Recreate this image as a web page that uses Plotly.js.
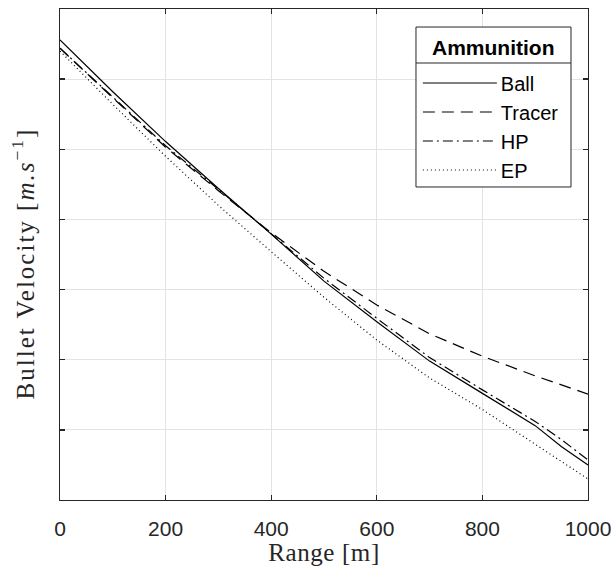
<!DOCTYPE html>
<html>
<head>
<meta charset="utf-8">
<script src="https://cdn.plot.ly/plotly-3.0.1.min.js"></script>
<style>
html,body{margin:0;padding:0;background:#fff;}
#chart{width:615px;height:574px;}
.ytitle{letter-spacing:2px;}
.xtitle{letter-spacing:0.6px;}
</style>
</head>
<body>
<div id="chart"></div>
<script>
// Range in metres
const range = [0, 100, 200, 300, 400, 500, 600, 700, 800, 900, 950, 1000];
// Bullet velocity (y tick labels are hidden in the reference; units estimated)
const ball   = [856, 782, 711, 644, 579, 512, 454, 398, 352, 306, 276, 250];
const tracer = [844, 773, 703, 641, 581, 526, 478, 437, 405, 377, 364, 351];
const hp     = [844, 774, 705, 643, 580, 516, 459, 403, 357, 312, 286, 257];
const ep     = [840, 764, 690, 620, 554, 489, 428, 374, 329, 280, 255, 230];
const seriesNames = ['Ball', 'Tracer', 'HP', 'EP'];
const legendTitle = 'Ammunition';
const xTicks = [0, 200, 400, 600, 800, 1000];
const yTicks = [200, 300, 400, 500, 600, 700, 800, 900];

const dashes = ['solid', '12px,7px', '10px,4px,2px,4px', '1px,3px'];
const allY = [ball, tracer, hp, ep];

const traces = allY.map((y, i) => ({
  x: range, y: y, type: 'scatter', mode: 'lines', name: seriesNames[i],
  line: {color: '#000000', width: 1.2, dash: dashes[i]}
}));

const axisCommon = {
  showline: true, linecolor: '#262626', linewidth: 1.3, mirror: 'ticks',
  ticks: 'inside', ticklen: 5, tickcolor: '#262626', tickwidth: 1.3,
  showgrid: true, gridcolor: '#e3e3e3', gridwidth: 1, zeroline: false
};

const layout = {
  width: 615, height: 574,
  margin: {l: 60, r: 27, t: 9, b: 74},
  paper_bgcolor: '#ffffff', plot_bgcolor: '#ffffff',
  showlegend: true,
  xaxis: Object.assign({}, axisCommon, {
    range: [0, 1000], tickvals: xTicks, ticktext: xTicks.map(String),
    ticklabelstandoff: 9,
    tickfont: {family: 'Liberation Sans, Arial, sans-serif', size: 21, color: '#262626'},
    title: {text: 'Range [m]', font: {family: 'Liberation Serif, serif', size: 25, color: '#262626'}, standoff: 0}
  }),
  yaxis: Object.assign({}, axisCommon, {
    range: [200, 900], tickvals: yTicks, showticklabels: false,
    title: {text: 'Bullet Velocity [<i>m.s</i><sup>−1</sup>]', font: {family: 'Liberation Serif, serif', size: 25, color: '#262626'}, standoff: 17}
  }),
  legend: {
    x: 0.674, y: 0.889, xanchor: 'left', yanchor: 'top',
    bgcolor: 'rgba(0,0,0,0)', borderwidth: 0,
    font: {family: 'Liberation Sans, Arial, sans-serif', size: 20, color: '#000000'},
    itemwidth: 75
  },
  shapes: [
    {type: 'rect', xref: 'paper', yref: 'paper', x0: 0.6742, x1: 0.9678, y0: 0.6375, y1: 0.9633,
     fillcolor: '#ffffff', line: {color: '#262626', width: 1}, layer: 'above'},
    {type: 'line', xref: 'paper', yref: 'paper', x0: 0.6742, x1: 0.9678, y0: 0.890, y1: 0.890,
     line: {color: '#262626', width: 1}, layer: 'above'}
  ],
  annotations: [
    {xref: 'paper', yref: 'paper', x: 0.821, y: 0.9226, xanchor: 'center', yanchor: 'middle',
     text: '<b>' + legendTitle + '</b>', showarrow: false,
     font: {family: 'Liberation Sans, Arial, sans-serif', size: 21, color: '#000000'}}
  ]
};

Plotly.newPlot('chart', traces, layout, {displayModeBar: false, staticPlot: true}).then(() => {
  document.querySelectorAll('.legend .legendlines path').forEach(p => {
    p.setAttribute('d', 'M7,0h74');
  });
  const yt = document.querySelector('.ytitle');
  if (yt) {
    const tr = yt.getAttribute('transform') || '';
    yt.setAttribute('transform', 'translate(0,9) ' + tr);
  }
});
</script>
</body>
</html>
